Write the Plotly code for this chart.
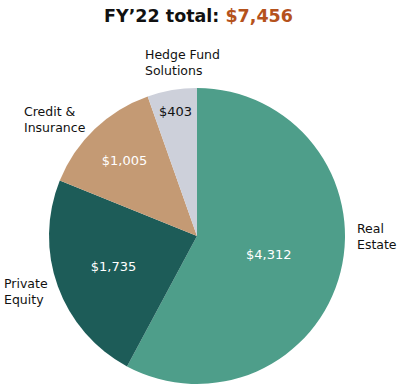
import plotly.graph_objects as go

categories = ["Real Estate", "Private Equity", "Credit & Insurance", "Hedge Fund Solutions"]
label_text = ["Real<br>Estate", "Private<br>Equity", "Credit &<br>Insurance", "Hedge Fund<br>Solutions"]
values = [4312, 1735, 1005, 403]
value_labels = ["$4,312", "$1,735", "$1,005", "$403"]
colors = ["#4e9e8a", "#1d5c58", "#c49a74", "#cdd0da"]
inside_text_colors = ["#ffffff", "#ffffff", "#ffffff", "#111111"]
total_label = "$7,456"

W, H = 397, 390
FONT = "DejaVu Sans"
dom_x = [49 / W, 345 / W]
dom_y = [6 / H, 302 / H]

# label anchor points (left edge, vertical middle) in pixels from top-left
label_pos = [(355, 237), (2, 291), (22, 119), (143, 63)]

fig = go.Figure()
fig.add_trace(go.Pie(
    labels=categories, values=values, text=value_labels,
    textinfo="text", textposition="inside", insidetextorientation="horizontal",
    sort=False, direction="clockwise", rotation=0,
    marker=dict(colors=colors, line=dict(width=0)),
    insidetextfont=dict(family=FONT, size=13, color=inside_text_colors),
    domain=dict(x=dom_x, y=dom_y), showlegend=False, hoverinfo="label+value",
))
for txt, (px, py) in zip(label_text, label_pos):
    fig.add_annotation(
        text=txt, x=px / W, y=1 - py / H, xref="paper", yref="paper",
        xanchor="left", yanchor="middle", align="left", showarrow=False,
        font=dict(family=FONT, size=12.5, color="#111111"),
    )
fig.update_layout(
    width=W, height=H,
    margin=dict(l=0, r=0, t=0, b=0),
    paper_bgcolor="white",
    title=dict(
        text=f"<b>FY’22 total: <span style='color:#b5521c'>{total_label}</span></b>",
        x=0.5, xanchor="center", y=1 - 16 / H, yanchor="middle",
        font=dict(family=FONT, size=17.5, color="#111111"),
    ),
)
fig.write_html("out.html", config={"displayModeBar": False},
               post_script="document.body.style.margin='0';")
